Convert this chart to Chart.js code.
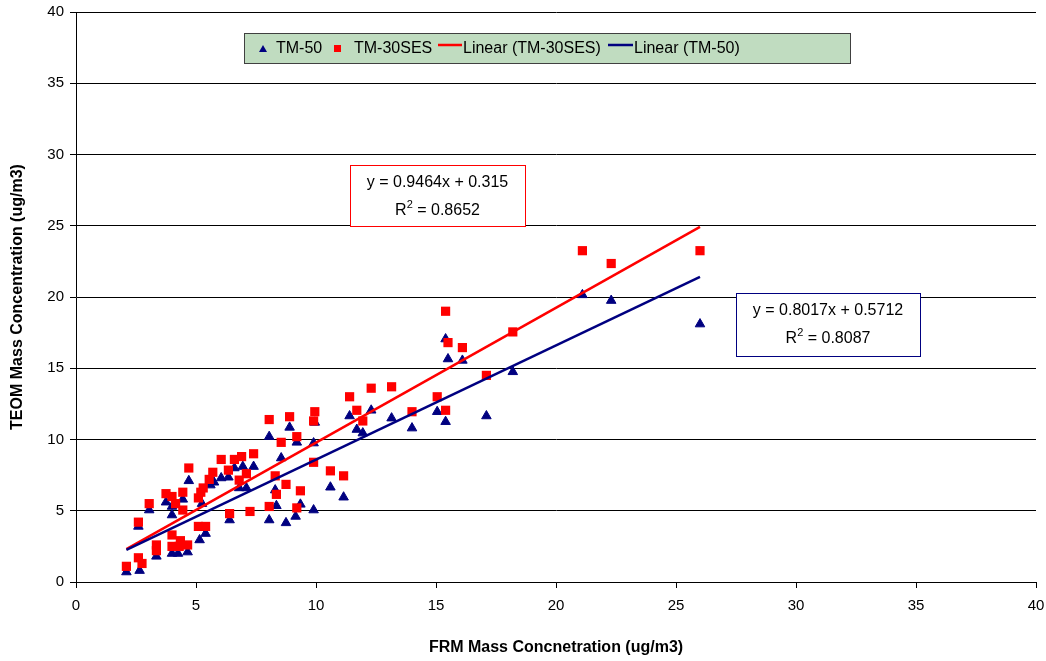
<!DOCTYPE html>
<html lang="en">
<head>
  <meta charset="UTF-8" />
  <title>TEOM vs FRM</title>
  <script src="https://cdn.jsdelivr.net/npm/chart.js"></script>
  <style>
    html, body { margin: 0; padding: 0; background: #fff; }
    #wrap { width: 1046px; height: 661px; }
  </style>
</head>
<body>
  <div id="wrap"><canvas id="chart" width="1046" height="661"></canvas></div>
  <script>
    // TM-30SES (red squares)
    const tm30X = [2.1, 2.6, 2.75, 2.6, 3.05, 3.35, 3.35, 3.75, 4.0, 4.15, 4.45, 4.45, 4.0, 4.0, 4.35, 4.3, 4.65, 4.7,
      5.1, 5.4, 5.1, 5.3, 5.2, 5.55, 5.7, 6.05, 6.35, 6.6, 6.9, 7.4, 7.1, 6.8, 6.4, 7.25, 8.05, 8.9, 8.55, 9.2,
      8.3, 8.35, 8.75, 8.05, 9.2, 9.35, 9.95, 9.9, 9.9, 10.6, 11.15, 11.4, 11.7, 11.95, 12.3, 13.15, 14.0,
      15.05, 15.4, 15.4, 15.5, 16.1, 18.2, 17.1, 21.1, 22.3, 26.0];
    const tm30Y = [1.1, 1.7, 1.3, 4.2, 5.5, 2.6, 2.2, 6.2, 6.0, 5.5, 6.3, 5.05, 3.3, 2.5, 2.9, 2.5, 2.6, 8.0,
      3.9, 3.9, 5.9, 6.6, 6.3, 7.2, 7.7, 8.6, 7.85, 8.6, 8.8, 9.0, 7.6, 7.15, 4.8, 4.95, 11.4, 11.6, 9.8, 10.2,
      7.45, 6.15, 6.85, 5.3, 5.2, 6.4, 11.95, 11.3, 8.4, 7.8, 7.45, 13.0, 12.05, 11.3, 13.6, 13.7, 11.95,
      13.0, 12.05, 19.0, 16.8, 16.45, 17.55, 14.5, 23.25, 22.35, 23.25];

    // TM-50 (navy triangles)
    const tm50X = [2.1, 2.65, 2.6, 3.05, 3.35, 3.75, 4.0, 4.0, 4.45, 4.0, 4.25, 4.65, 4.7, 5.15, 5.4, 5.25, 5.6,
      5.75, 6.05, 6.35, 6.6, 6.95, 7.4, 6.8, 7.1, 6.4, 8.05, 8.9, 8.55, 9.2, 8.3, 8.35, 8.05, 8.75, 9.15, 9.35,
      9.95, 9.9, 9.9, 10.6, 11.15, 11.4, 11.7, 11.95, 12.3, 13.15, 14.0, 15.05, 15.4, 15.4, 15.5, 16.1, 18.2,
      17.1, 21.1, 22.3, 26.0];
    const tm50Y = [0.7, 0.8, 3.9, 5.05, 1.8, 5.6, 5.3, 4.7, 5.8, 2.0, 2.0, 2.1, 7.1, 2.95, 3.4, 5.5, 6.8,
      7.0, 7.3, 7.35, 8.0, 8.1, 8.1, 6.6, 6.6, 4.35, 10.2, 10.85, 8.7, 9.8, 6.45, 5.35, 4.35, 4.15, 4.6, 5.45,
      11.2, 9.75, 5.05, 6.65, 5.95, 11.65, 10.7, 10.45, 12.05, 11.5, 10.8, 11.95, 11.25, 17.05, 15.65, 15.55, 14.75,
      11.65, 20.15, 19.75, 18.1];

    // trend line fits (slope, intercept, r2)
    const fit30 = [0.9464, 0.315, 0.8652];
    const fit50 = [0.8017, 0.5712, 0.8087];

    const xTicks = [0, 5, 10, 15, 20, 25, 30, 35, 40];
    const yTicks = [0, 5, 10, 15, 20, 25, 30, 35, 40];

    const RED = '#ff0000';
    const NAVY = '#000080';
    const FONT = '"Liberation Sans", Arial, sans-serif';

    function pts(xs, ys) { return xs.map((x, i) => ({ x: x, y: ys[i] })); }
    function trend(xs, fit) {
      const lo = Math.min(...xs), hi = Math.max(...xs);
      return [{ x: lo, y: fit[0] * lo + fit[1] }, { x: hi, y: fit[0] * hi + fit[1] }];
    }

    // legend + equation boxes
    const overlay = {
      id: 'overlay',
      afterDraw(chart) {
        const ctx = chart.ctx;
        ctx.save();
        // legend
        ctx.fillStyle = '#c0dcc0';
        ctx.fillRect(244.5, 33.5, 606, 30);
        ctx.strokeStyle = '#404040';
        ctx.lineWidth = 1;
        ctx.strokeRect(244.5, 33.5, 606, 30);
        ctx.font = '16px ' + FONT;
        ctx.textBaseline = 'middle';
        const ly = 49;
        ctx.fillStyle = NAVY;
        ctx.beginPath();
        ctx.moveTo(263, ly - 4); ctx.lineTo(267, ly + 3); ctx.lineTo(259, ly + 3); ctx.closePath(); ctx.fill();
        ctx.fillStyle = '#000';
        ctx.fillText('TM-50', 276, ly);
        ctx.fillStyle = RED;
        ctx.fillRect(334, ly - 4, 7, 7);
        ctx.fillStyle = '#000';
        ctx.fillText('TM-30SES', 354, ly);
        ctx.strokeStyle = RED; ctx.lineWidth = 2.5;
        ctx.beginPath(); ctx.moveTo(438, ly - 4); ctx.lineTo(462, ly - 4); ctx.stroke();
        ctx.fillText('Linear (TM-30SES)', 463, ly);
        ctx.strokeStyle = NAVY;
        ctx.beginPath(); ctx.moveTo(608, ly - 4); ctx.lineTo(633, ly - 4); ctx.stroke();
        ctx.fillText('Linear (TM-50)', 634, ly);

        function eqBox(l, t, w, h, color, fit) {
          ctx.fillStyle = '#fff';
          ctx.fillRect(l, t, w, h);
          ctx.strokeStyle = color; ctx.lineWidth = 1;
          ctx.strokeRect(l + 0.5, t + 0.5, w, h);
          ctx.fillStyle = '#000';
          ctx.font = '16px ' + FONT;
          ctx.textAlign = 'center';
          const cx = l + w / 2;
          ctx.fillText('y = ' + fit[0] + 'x + ' + fit[1], cx, t + 18);
          const rest = ' = ' + fit[2];
          const wR = ctx.measureText('R').width, wRest = ctx.measureText(rest).width;
          ctx.font = '11px ' + FONT;
          const w2 = ctx.measureText('2').width;
          const start = cx - (wR + w2 + wRest) / 2;
          ctx.textAlign = 'left';
          ctx.fillText('2', start + wR, t + 40);
          ctx.font = '16px ' + FONT;
          ctx.fillText('R', start, t + 46);
          ctx.fillText(rest, start + wR + w2, t + 46);
        }
        eqBox(350, 165, 175, 61, RED, fit30);
        eqBox(736, 293, 184, 63, NAVY, fit50);
        ctx.restore();
      }
    };

    new Chart(document.getElementById('chart'), {
      type: 'scatter',
      data: {
        datasets: [
          {
            label: 'TM-50',
            data: pts(tm50X, tm50Y),
            pointStyle: 'triangle',
            pointRadius: 5.5,
            backgroundColor: NAVY,
            borderColor: NAVY,
            borderWidth: 1,
            order: 3
          },
          {
            label: 'TM-30SES',
            data: pts(tm30X, tm30Y),
            pointStyle: 'rect',
            pointRadius: 6.5,
            backgroundColor: RED,
            borderColor: RED,
            borderWidth: 0,
            order: 2
          },
          {
            label: 'Linear (TM-30SES)',
            type: 'line',
            data: trend(tm30X, fit30),
            borderColor: RED,
            borderWidth: 2.5,
            pointRadius: 0,
            fill: false,
            order: 1
          },
          {
            label: 'Linear (TM-50)',
            type: 'line',
            data: trend(tm50X, fit50),
            borderColor: NAVY,
            borderWidth: 2.5,
            pointRadius: 0,
            fill: false,
            order: 0
          }
        ]
      },
      options: {
        responsive: false,
        animation: false,
        layout: { padding: { left: 0, top: 12, right: 10, bottom: 0 } },
        plugins: {
          legend: { display: false },
          tooltip: { enabled: false }
        },
        scales: {
          x: {
            type: 'linear',
            min: 0, max: 40,
            afterBuildTicks(s) { s.ticks = xTicks.map(v => ({ value: v })); },
            afterFit(s) { s.height = 79; s.paddingLeft = 0; s.paddingRight = 0; },
            grid: { drawOnChartArea: false, drawTicks: true, tickLength: 6, color: '#000' },
            border: { display: true, color: '#000', width: 1 },
            ticks: { color: '#000', font: { family: FONT, size: 15 }, padding: 9, maxRotation: 0 },
            title: {
              display: true,
              text: 'FRM Mass Concnetration (ug/m3)',
              color: '#000',
              font: { family: FONT, size: 16, weight: 'bold' },
              padding: { top: 14 }
            }
          },
          y: {
            type: 'linear',
            min: 0, max: 40,
            afterBuildTicks(s) { s.ticks = yTicks.map(v => ({ value: v })); },
            afterFit(s) { s.width = 76; s.paddingTop = 0; s.paddingBottom = 0; },
            grid: { drawOnChartArea: true, drawTicks: true, tickLength: 6, color: '#000', lineWidth: 1 },
            border: { display: true, color: '#000', width: 1 },
            ticks: { color: '#000', font: { family: FONT, size: 15 }, padding: 6 },
            title: {
              display: true,
              text: 'TEOM Mass Concentration (ug/m3)',
              color: '#000',
              font: { family: FONT, size: 16, weight: 'bold' },
              padding: { top: 8, bottom: 6 }
            }
          }
        }
      },
      plugins: [overlay]
    });
  </script>
</body>
</html>
